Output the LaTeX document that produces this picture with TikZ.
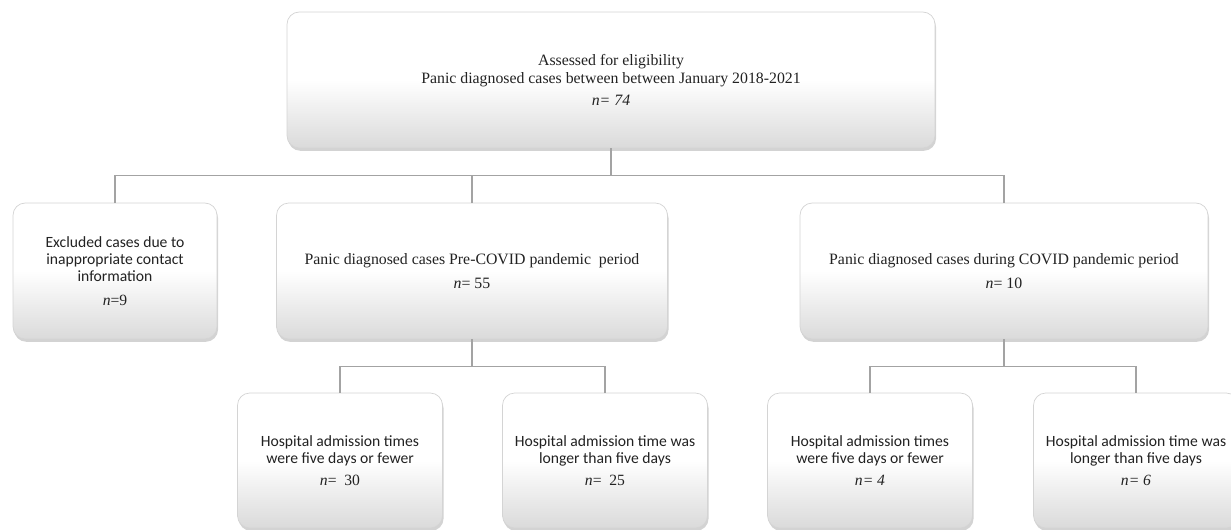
\documentclass[tikz,border=0pt]{standalone}
\usepackage{fontspec}
\setmainfont{Liberation Serif}
\newfontfamily\carlito{Carlito}
\usetikzlibrary{positioning, shadows}
\definecolor{boxedge}{HTML}{D4D4D4}
\definecolor{boxbottom}{HTML}{DADADA}
\definecolor{linkgray}{HTML}{A3A3A3}
\definecolor{inkgray}{HTML}{222222}

\begin{document}
\begin{tikzpicture}[
      every node/.style={text=inkgray},
      box/.style={draw=boxedge, rounded corners=7pt, align=center,
                  font=\fontsize{9}{10.2}\selectfont,
                  top color=white, bottom color=boxbottom, middle color=white,
                  minimum height=2.72cm,
                  drop shadow={shadow xshift=0.6pt, shadow yshift=-1.6pt, opacity=0.35}},
      sansbox/.style={box, font=\carlito\fontsize{8.9}{9.8}\selectfont},
      link/.style={draw=linkgray, line width=0.9pt},
    ]
    \useasboundingbox (0,0) rectangle (24.62,10.6);

    % top of the tree
    \node[box, minimum width=12.96cm] (assessed) at (12.22,9.0)
      {Assessed for eligibility\\Panic diagnosed cases between between January 2018-2021\\[2.2pt]\textit{n= 74}};

    % second row
    \node[sansbox, minimum width=4.08cm] (excluded) at (2.30,5.18)
      {Excluded cases due to\\inappropriate contact\\information\\[3.5pt]{\rmfamily\textit{n}=9}};
    \node[box, minimum width=7.82cm] (precovid) at (9.44,5.18)
      {Panic diagnosed cases Pre-COVID pandemic\ \ period\\[3.2pt]\textit{n}= 55};
    \node[box, minimum width=8.16cm] (covid) at (20.08,5.18)
      {Panic diagnosed cases during COVID pandemic period\\[3.2pt]\textit{n}= 10};

    % third row
    \node[sansbox, minimum width=4.1cm, minimum height=2.7cm] (preshort) at (6.80,1.39)
      {Hospital admission times\\were five days or fewer\\[2.5pt]{\rmfamily\textit{n}=\ \ 30}};
    \node[sansbox, minimum width=4.1cm, minimum height=2.7cm] (prelong) at (12.10,1.39)
      {Hospital admission time was\\longer than five days\\[2.5pt]{\rmfamily\textit{n}=\ \ 25}};
    \node[sansbox, minimum width=4.1cm, minimum height=2.7cm] (covshort) at (17.40,1.39)
      {Hospital admission times\\were five days or fewer\\[2.5pt]{\rmfamily\textit{n= 4}}};
    \node[sansbox, minimum width=4.1cm, minimum height=2.7cm] (covlong) at (22.72,1.39)
      {Hospital admission time was\\longer than five days\\[2.5pt]{\rmfamily\textit{n= 6}}};

    % connectors
    \draw[link] (assessed.south) -- ++(0,-0.54) coordinate (hub);
    \draw[link] (excluded.north) |- (hub) -| (covid.north);
    \draw[link] (precovid.north) -- (precovid.north |- hub);

    \draw[link] (precovid.south) -- ++(0,-0.54) coordinate (prehub);
    \draw[link] (preshort.north) |- (prehub) -| (prelong.north);

    \draw[link] (covid.south) -- ++(0,-0.54) coordinate (covhub);
    \draw[link] (covshort.north) |- (covhub) -| (covlong.north);
  \end{tikzpicture}
\end{document}
